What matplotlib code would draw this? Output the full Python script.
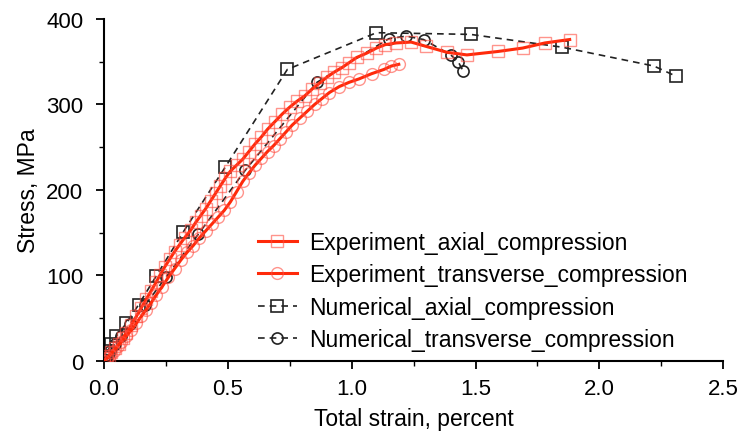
import matplotlib
matplotlib.use('Agg')
import matplotlib.pyplot as plt
from matplotlib.ticker import MultipleLocator

plt.rcParams['font.family'] = ['Liberation Sans', 'DejaVu Sans']

# experiment, axial compression
exp_ax_strain = [0.00, 0.01, 0.02, 0.03, 0.045, 0.06, 0.075, 0.09, 0.11, 0.13, 0.15, 0.17, 0.19, 0.21,
                 0.225, 0.245, 0.265, 0.285, 0.305, 0.325, 0.35, 0.37, 0.39, 0.41, 0.43, 0.45, 0.47, 0.49,
                 0.51, 0.535, 0.56, 0.585, 0.61, 0.635, 0.66, 0.69, 0.72, 0.75, 0.78, 0.81, 0.84, 0.87,
                 0.90, 0.93, 0.96, 0.99, 1.02, 1.06, 1.10, 1.135, 1.18, 1.24, 1.30, 1.385, 1.465, 1.59,
                 1.69, 1.78, 1.88]
exp_ax_stress = [0, 3, 6, 10, 15, 20, 27, 33, 42, 52, 62, 72, 82, 92,
                 100, 110, 119, 128, 136, 144, 153, 162, 170, 178, 187, 196, 205, 214,
                 222, 229, 236, 245, 254, 262, 271, 280, 289, 297, 304, 310, 318, 325,
                 332, 338, 343, 349, 355, 360, 366, 370, 372, 373, 368, 361, 358, 362,
                 366, 372, 376]

# experiment, transverse compression
exp_tr_strain = [0.00, 0.012, 0.025, 0.04, 0.055, 0.07, 0.09, 0.11, 0.13, 0.15, 0.17, 0.19, 0.21, 0.235,
                 0.26, 0.285, 0.31, 0.335, 0.36, 0.385, 0.41, 0.435, 0.46, 0.485, 0.51, 0.535, 0.56,
                 0.585, 0.61, 0.635, 0.66, 0.685, 0.71, 0.735, 0.76, 0.79, 0.82, 0.85, 0.88, 0.91,
                 0.95, 0.99, 1.03, 1.08, 1.13, 1.16, 1.19]
exp_tr_stress = [0, 3, 7, 12, 17, 22, 29, 36, 44, 52, 60, 68, 77, 87,
                 98, 108, 118, 127, 135, 144, 152, 160, 168, 176, 186, 198, 210,
                 220, 229, 237, 245, 252, 260, 268, 276, 284, 292, 300, 307, 314,
                 321, 326, 330, 336, 341, 345, 347]

# numerical, axial compression
num_ax_strain = [0.0, 0.005, 0.015, 0.03, 0.05, 0.09, 0.14, 0.21, 0.32, 0.49, 0.74, 1.10, 1.48, 1.85, 2.22, 2.31]
num_ax_stress = [0, 5, 12, 20, 29, 44, 66, 99, 151, 227, 341, 384, 382, 367, 345, 333]

# numerical, transverse compression
num_tr_strain = [0.0, 0.01, 0.025, 0.045, 0.07, 0.105, 0.165, 0.25, 0.38, 0.57, 0.86, 1.15, 1.22, 1.29, 1.40, 1.43, 1.45]
num_tr_stress = [0, 6, 12, 20, 29, 43, 65, 98, 148, 223, 326, 377, 380, 376, 358, 350, 339]

red = '#ff2a0a'
red_mk = (1, 0.3, 0.25, 0.6)
dark = '#222222'

fig = plt.figure(figsize=(7.38, 4.35), dpi=100)
ax = fig.add_axes([0.141, 0.168, 0.839, 0.786])

ax.plot(num_ax_strain, num_ax_stress, ls=(0, (4, 3)), color=dark, lw=1.2, marker='s', ms=8,
        mfc='none', mec=dark, mew=1.2, label='Numerical_axial_compression', zorder=2)
ax.plot(num_tr_strain, num_tr_stress, ls=(0, (4, 3)), color=dark, lw=1.2, marker='o', ms=8,
        mfc='none', mec=dark, mew=1.2, label='Numerical_transverse_compression', zorder=2)
ax.plot(exp_ax_strain, exp_ax_stress, color=red, lw=2.2, marker='s', ms=8.5,
        mfc='none', mec=red_mk, mew=1.0, label='Experiment_axial_compression', zorder=3)
ax.plot(exp_tr_strain, exp_tr_stress, color=red, lw=2.2, marker='o', ms=8.5,
        mfc='none', mec=red_mk, mew=1.0, label='Experiment_transverse_compression', zorder=3)

ax.set_xlim(0, 2.5)
ax.set_ylim(0, 400)
ax.xaxis.set_major_locator(MultipleLocator(0.5))
ax.xaxis.set_minor_locator(MultipleLocator(0.25))
ax.yaxis.set_major_locator(MultipleLocator(100))
ax.yaxis.set_minor_locator(MultipleLocator(50))
ax.xaxis.set_major_formatter(plt.FormatStrFormatter('%.1f'))
ax.tick_params(which='major', direction='out', length=6, width=1.3, labelsize=16)
ax.tick_params(which='minor', direction='out', length=3.5, width=1.0)
ax.tick_params(axis='y', which='major', pad=9)
ax.tick_params(axis='x', which='major', pad=6)
for s in ['top', 'right']:
    ax.spines[s].set_visible(False)
for s in ['left', 'bottom']:
    ax.spines[s].set_linewidth(1.5)

ax.set_xlabel('Total strain, percent', fontsize=16.5, labelpad=6)
ax.set_ylabel('Stress, MPa', fontsize=16.5, labelpad=4)

handles, labels = ax.get_legend_handles_labels()
order = [2, 3, 0, 1]
ax.legend([handles[i] for i in order], [labels[i] for i in order], loc='upper left',
          bbox_to_anchor=(0.337, 0.488), bbox_transform=fig.transFigure, frameon=False,
          fontsize=16.5, handlelength=1.7, handletextpad=0.55, labelspacing=0.41, borderaxespad=0)

fig.savefig('out.png', dpi=100)
